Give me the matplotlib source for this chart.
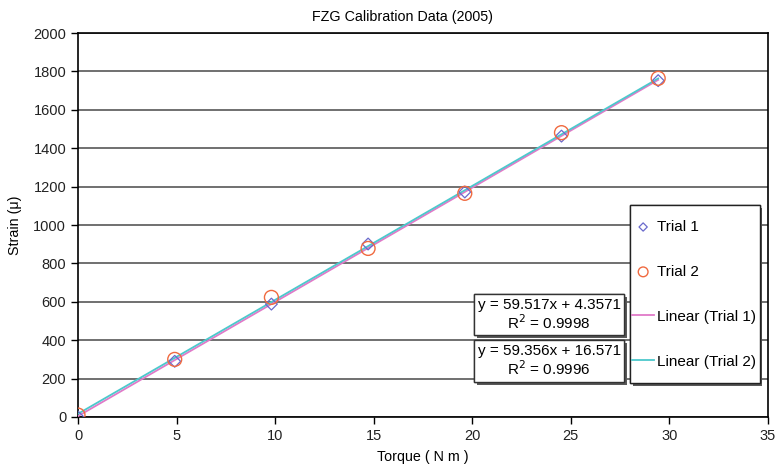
import numpy as np
import matplotlib.pyplot as plt
import matplotlib.patheffects as pe
from matplotlib.patches import Rectangle

plt.rcParams['font.family'] = ['Liberation Sans', 'DejaVu Sans']

# applied torque (N m) and measured strain for the two runs
torque = [0, 4.905, 9.81, 14.715, 19.62, 24.525, 29.43]
trial1 = [0, 290, 588, 901, 1172, 1463, 1752]
trial2 = [10, 300, 623, 878, 1165, 1481, 1764]

# Excel trendline coefficients (slope, intercept, R^2)
fit1 = (59.517, 4.3571, 0.9998)
fit2 = (59.356, 16.571, 0.9996)

fig = plt.figure(figsize=(7.77, 4.69), dpi=100)
ax = fig.add_axes([0.1004, 0.1109, 0.888, 0.8187])

ax.scatter(torque, trial1, marker='D', s=36, facecolors='none',
           edgecolors='#6a6acc', linewidths=0.9, label='Trial 1', zorder=4)
ax.scatter(torque, trial2, marker='o', s=100, facecolors='none',
           edgecolors='#f06a40', linewidths=1.0, label='Trial 2', zorder=4)

xs = np.array([torque[0], torque[-1]])
ax.plot(xs, fit1[0] * xs + fit1[1], color='#e07ac8', lw=1.3,
        label='Linear (Trial 1)', zorder=3)
ax.plot(xs, fit2[0] * xs + fit2[1], color='#4cc8cc', lw=1.3,
        label='Linear (Trial 2)', zorder=3)

ax.set_xlim(0, 35)
ax.set_ylim(0, 2000)
ax.set_xticks(range(0, 36, 5))
ax.set_yticks(range(0, 2001, 200))
ax.grid(axis='y', color='#707070', lw=1.4)
ax.set_axisbelow(True)
for s in ax.spines.values():
    s.set_color('black')
    s.set_linewidth(1.2)
ax.tick_params(labelsize=10.5, length=5, width=1, colors='black',
               labelcolor='#222222')

ax.set_title('FZG Calibration Data (2005)', fontsize=10.3, pad=9, x=0.471)
ax.set_xlabel('Torque ( N m )', fontsize=10.3, labelpad=5)
ax.set_ylabel('Strain (\u03bc)', fontsize=10.3, labelpad=8)

shadow = [pe.withSimplePatchShadow(offset=(2, -2), shadow_rgbFace='0.35',
                                   alpha=1), pe.Normal()]
for fit, yc in [(fit1, 0.2664), (fit2, 0.1458)]:
    txt = 'y = {}x + {}\nR$^2$ = {}'.format(fit[0], fit[1], fit[2])
    t = ax.text(0.683, yc, txt, transform=ax.transAxes, ha='center',
                va='center', fontsize=11, linespacing=1.1, zorder=6,
                bbox=dict(boxstyle='square,pad=0.24', fc='white',
                          ec='#333333', lw=1))
    t.get_bbox_patch().set_path_effects(shadow)

# legend frame drawn separately so its padding can be set freely
frame = Rectangle((0.8, 0.0885), 0.188, 0.4635, transform=ax.transAxes,
                  fc='white', ec='#222222', lw=1, zorder=5)
frame.set_path_effects(shadow)
ax.add_patch(frame)

leg = ax.legend(loc='upper left', bbox_to_anchor=(0.803, 0.513),
                fontsize=11, frameon=False, labelspacing=2.02,
                handlelength=1.45, handletextpad=0.15, borderpad=0,
                borderaxespad=0, markerscale=0.7)
leg.set_zorder(6)

fig.savefig('out.png', dpi=100)
